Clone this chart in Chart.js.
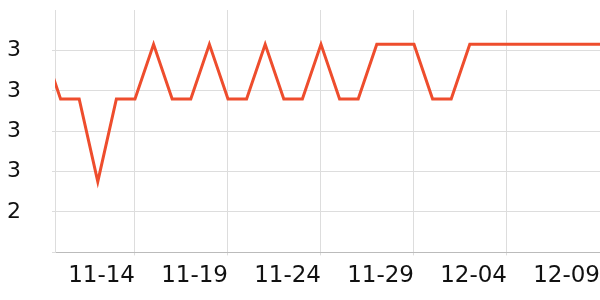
<!DOCTYPE html>
<html>
<head>
<meta charset="utf-8">
<script src="https://cdn.jsdelivr.net/npm/chart.js@4"></script>
<style>
  html, body { margin: 0; padding: 0; background: #fff; }
  #wrap { width: 600px; height: 300px; }
</style>
</head>
<body>
<div id="wrap"><canvas id="chart"></canvas></div>
<script>
// daily dates and prices
const dates = ['11-09', '11-10', '11-11', '11-12', '11-13', '11-14', '11-15', '11-16',
    '11-17', '11-18', '11-19', '11-20', '11-21', '11-22', '11-23', '11-24', '11-25',
    '11-26', '11-27', '11-28', '11-29', '11-30', '12-01', '12-02', '12-03', '12-04',
    '12-05', '12-06', '12-07', '12-08', '12-09'];
const prices = [3.23, 2.96, 2.96, 2.55, 2.96, 2.96, 3.23, 2.96,
    2.96, 3.23, 2.96, 2.96, 3.23, 2.96, 2.96, 3.23, 2.96,
    2.96, 3.23, 3.23, 3.23, 2.96, 2.96, 3.23, 3.23, 3.23,
    3.23, 3.23, 3.23, 3.23, 3.23];
const tickDates = ['11-14', '11-19', '11-24', '11-29', '12-04', '12-09'];

const Y_MIN = 2.2, Y_MAX = 3.4;
const FONT = { family: 'DejaVu Sans', size: 22 };

const ctx = document.getElementById('chart').getContext('2d');
new Chart(ctx, {
    type: 'line',
    data: {
        datasets: [{
            data: prices.map((p, i) => ({ x: i, y: p })),
            borderColor: '#ee4d2d',
            borderWidth: 3,
            pointRadius: 0,
            tension: 0,
            fill: false,
            clip: 0
        }]
    },
    options: {
        responsive: true,
        maintainAspectRatio: false,
        animation: false,
        layout: { padding: { top: 10, right: 0, left: 7, bottom: 3 } },
        plugins: { legend: { display: false }, tooltip: { enabled: false } },
        scales: {
            x: {
                type: 'linear',
                min: 0.7,
                max: dates.length - 1,
                afterBuildTicks: (scale) => {
                    scale.ticks = tickDates.map(d => ({ value: dates.indexOf(d) }));
                },
                afterFit: (scale) => {
                    scale.paddingLeft = 0;
                    scale.paddingRight = 0;
                },
                ticks: {
                    align: 'end',
                    color: '#111',
                    font: { family: 'DejaVu Sans', size: 23 },
                    padding: 7,
                    maxRotation: 0,
                    callback: (value) => dates[value]
                },
                grid: { color: '#dddddd', tickLength: 3 },
                border: { color: '#bbbbbb' }
            },
            y: {
                min: Y_MIN,
                max: Y_MAX,
                afterFit: (scale) => {
                    scale.width = 48;
                    scale.paddingTop = 0;
                    scale.paddingBottom = 0;
                },
                ticks: {
                    stepSize: 0.2,
                    color: '#111',
                    font: FONT,
                    padding: 4,
                    crossAlign: 'far',
                    callback: (value) => {
                        if (Math.abs(value - Y_MIN) < 1e-6 || Math.abs(value - Y_MAX) < 1e-6) return '';
                        return Math.round(value).toString();
                    }
                },
                grid: {
                    tickLength: 3,
                    color: (c) => (c.tick && Math.abs(c.tick.value - Y_MAX) < 1e-6) ? 'rgba(0,0,0,0)' : '#dddddd'
                },
                border: { color: '#dddddd' }
            }
        }
    }
});
</script>
</body>
</html>
